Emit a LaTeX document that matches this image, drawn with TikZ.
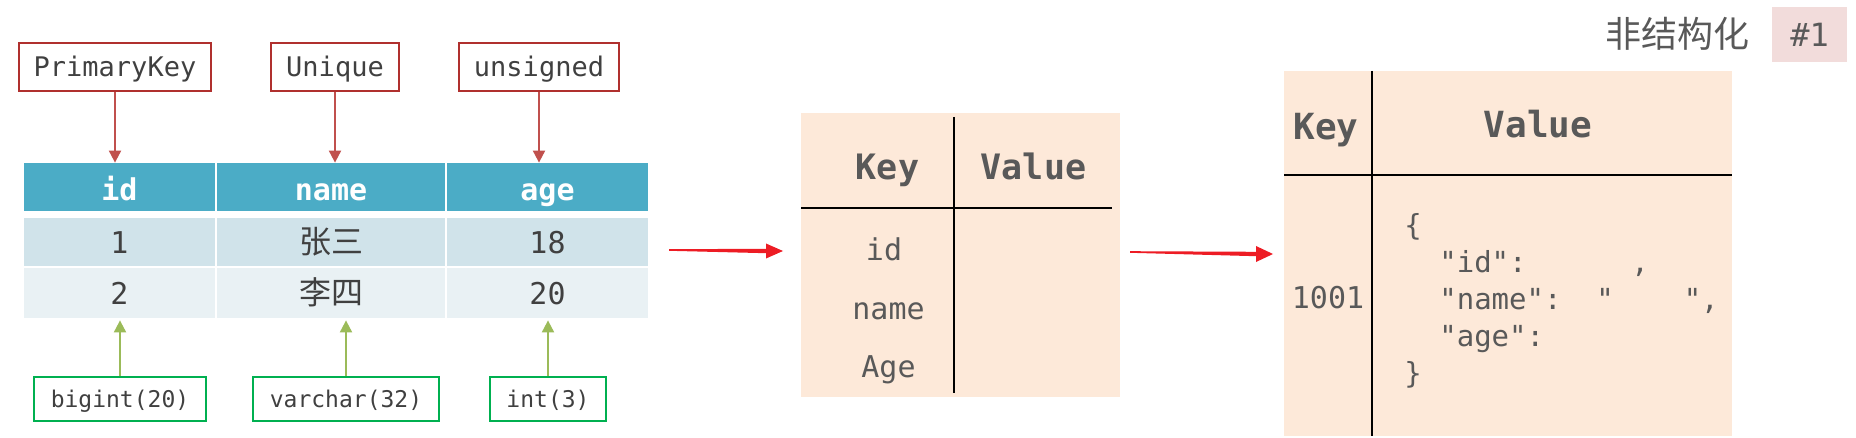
\documentclass[tikz,border=0pt]{standalone}
\usepackage{fontspec}
\setmainfont{DejaVu Sans}
\setmonofont{DejaVu Sans Mono}
\newfontfamily\cjk{Noto Sans CJK SC}
\usetikzlibrary{positioning,calc,arrows.meta}
\definecolor{hdblue}{HTML}{4BACC6}
\definecolor{rowa}{HTML}{D0E3EA}
\definecolor{rowb}{HTML}{E9F1F4}
\definecolor{keyred}{HTML}{B0302E}
\definecolor{arrred}{HTML}{C0504D}
\definecolor{typegreen}{HTML}{00B050}
\definecolor{arrgreen}{HTML}{9BBB59}
\definecolor{kvbg}{HTML}{FDE9D9}
\definecolor{txtgray}{HTML}{404040}
\definecolor{kvgray}{HTML}{595959}
\definecolor{bigred}{HTML}{ED1C24}
\definecolor{tagpink}{HTML}{F2DCDB}

\begin{document}
\begin{tikzpicture}[x=0.5pt,y=-0.5pt,
  every node/.style={inner sep=0pt},
  keybox/.style={draw=keyred,line width=1pt,minimum height=24pt,text height=9.9pt,text depth=0pt,
    text=txtgray,font=\ttfamily\fontsize{13.5}{16}\selectfont},
  typebox/.style={draw=typegreen,line width=1pt,minimum height=22pt,text height=8.4pt,text depth=0pt,
    text=txtgray,font=\ttfamily\fontsize{11.5}{14}\selectfont},
  cell/.style={minimum height=24pt,text height=11pt,text depth=0pt,text=txtgray,
    font=\ttfamily\fontsize{15}{18}\selectfont},
  headcell/.style={cell,fill=hdblue,text=white,text height=14pt,font=\ttfamily\bfseries\fontsize{15}{18}\selectfont},
  keyarrow/.style={arrred,line width=1pt,-{Triangle[length=6pt,width=6pt]}},
  typearrow/.style={arrgreen,line width=1pt,-{Triangle[length=6pt,width=6pt]}},
  kvhead/.style={anchor=base,text=kvgray,font=\ttfamily\bfseries\fontsize{17.5}{20}\selectfont},
  kvtext/.style={anchor=base,text=kvgray,font=\ttfamily\fontsize{15}{18}\selectfont},
  jsonline/.style={anchor=base west,text=kvgray,font=\ttfamily\fontsize{14.5}{18}\selectfont},
  kvline/.style={black,line width=1.4pt}]
\useasboundingbox (0,0) rectangle (1856,438);

% constraint boxes
\node[keybox,minimum width=96pt] (pk) at (115,67) {PrimaryKey};
\node[keybox,minimum width=64pt] (uq) at (335,67) {Unique};
\node[keybox,minimum width=80pt] (us) at (539,67) {unsigned};

% table
\node[headcell,minimum width=95.5pt] (h1) at (119.5,187) {id};
\node[headcell,minimum width=114pt] (h2) at (331,187) {name};
\node[headcell,minimum width=100.5pt] (h3) at (547.5,187) {age};
\node[cell,fill=rowa,minimum width=95.5pt] (r11) at (119.5,242) {1};
\node[cell,fill=rowa,minimum width=114pt] (r12) at (331,242) {{\cjk\fontsize{16}{18}\selectfont 张三}};
\node[cell,fill=rowa,minimum width=100.5pt] (r13) at (547.5,242) {18};
\node[cell,fill=rowb,minimum width=95.5pt,minimum height=25pt] (r21) at (119.5,293) {2};
\node[cell,fill=rowb,minimum width=114pt,minimum height=25pt] (r22) at (331,293) {{\cjk\fontsize{16}{18}\selectfont 李四}};
\node[cell,fill=rowb,minimum width=100.5pt,minimum height=25pt] (r23) at (547.5,293) {20};

% type boxes
\node[typebox,minimum width=86pt] (tb) at (120,399) {bigint(20)};
\node[typebox,minimum width=93pt] (tv) at (346,399) {varchar(32)};
\node[typebox,minimum width=58pt] (ti) at (548,399) {int(3)};

\draw[keyarrow] (pk) -- (pk |- h1.north);
\draw[keyarrow] (uq) -- (uq |- h2.north);
\draw[keyarrow] (us) -- (us |- h3.north);
\draw[typearrow] (tb) -- ($(tb |- r21.south)+(0,2)$);
\draw[typearrow] (tv) -- ($(tv |- r22.south)+(0,2)$);
\draw[typearrow] (ti) -- ($(ti |- r23.south)+(0,2)$);

% key-value table
\node[fill=kvbg,minimum width=159.5pt,minimum height=142pt] (kv1) at (960.5,255) {};
\draw[kvline] (954,117) -- (954,393);
\draw[kvline] (801,208) -- (1112,208);
\node[kvhead] (kv1k) at (887.5,180) {Key};
\node[kvhead] (kv1v) at (1033.5,180) {Value};
\node[kvtext] (kv1a) at (884,261) {id};
\node[kvtext] (kv1b) at (888.5,319) {name};
\node[kvtext] (kv1c) at (888.5,377) {Age};

% document table
\node[fill=kvbg,minimum width=224pt,minimum height=182.5pt] (kv2) at (1508,253.5) {};
\draw[kvline] (1372,71) -- (1372,436);
\draw[kvline] (1284,175) -- (1732,175);
\node[kvhead,font=\ttfamily\bfseries\fontsize{18}{20}\selectfont] (kv2k) at (1326,140) {Key};
\node[kvhead,font=\ttfamily\bfseries\fontsize{18}{20}\selectfont] (kv2v) at (1538,138) {Value};
\node[kvtext] (kv2id) at (1328,308) {1001};
\node[jsonline] (js1) at (1404,235) {\{};
\node[jsonline] (js2) at (1404,272) {\phantom{00}"id":\phantom{000000},};
\node[jsonline] (js3) at (1404,309) {\phantom{00}"name":\phantom{00}"\phantom{0000}",};
\node[jsonline] (js4) at (1404,346) {\phantom{00}"age":};
\node[jsonline] (js5) at (1404,383) {\}};

% big arrows
\coordinate (a1s) at (669,250);
\coordinate (a1e) at (783,251);
\fill[bigred] ($(a1s)+(0,-0.8)$) -- ($(a1e)+(-17,-2.2)$) -- ($(a1e)+(-17,-7.5)$) -- (a1e)
  -- ($(a1e)+(-17,7.5)$) -- ($(a1e)+(-17,2.2)$) -- ($(a1s)+(0,0.8)$) -- cycle;
\coordinate (a2s) at (1130,252);
\coordinate (a2e) at (1273,254);
\fill[bigred] ($(a2s)+(0,-0.8)$) -- ($(a2e)+(-17,-2.2)$) -- ($(a2e)+(-17,-8)$) -- (a2e)
  -- ($(a2e)+(-17,8)$) -- ($(a2e)+(-17,2.2)$) -- ($(a2s)+(0,0.8)$) -- cycle;

% title
\node[text=kvgray,font=\cjk\fontsize{18}{20}\selectfont] (title) at (1677,34) {非结构化};
\node[fill=tagpink,minimum width=37.5pt,minimum height=27.5pt,text=kvgray,
  font=\ttfamily\fontsize{16}{18}\selectfont] (tag) at (1809.5,34.5) {\#1};
\end{tikzpicture}
\end{document}
